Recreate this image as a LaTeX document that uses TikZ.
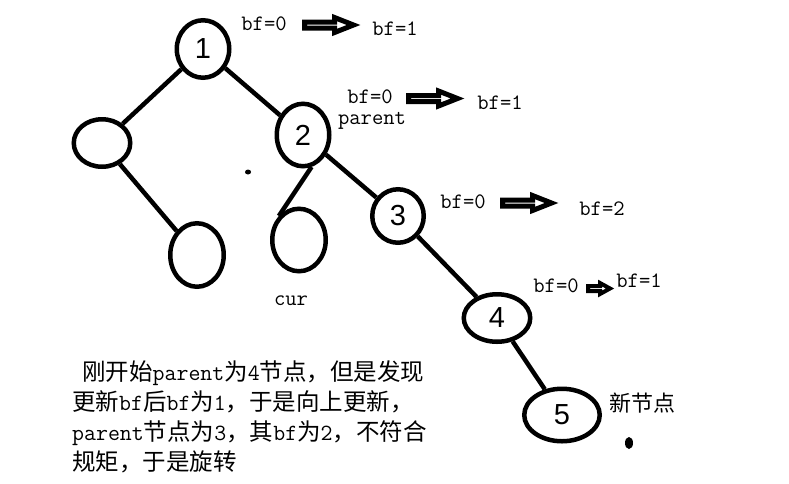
\documentclass[tikz,border=0pt]{standalone}
\usepackage{fontspec}
\newfontfamily\cjk{Noto Sans CJK SC}
\newfontfamily\digitfont{Liberation Sans}
\usetikzlibrary{shapes.geometric}
\newcommand\zh[1]{{\cjk\fontsize{23.5}{30}\selectfont#1}}

\begin{document}
\begin{tikzpicture}[
  x=1pt,y=-1pt,
  font=\ttfamily\fontsize{22}{24}\selectfont,
  treenode/.style={draw,ellipse,line width=4.5pt,inner sep=0pt,
    font=\digitfont\fontsize{29}{29}\selectfont},
  edge/.style={line width=4.5pt},
  lbl/.style={anchor=base,inner sep=0pt},
  fatarrow/.pic={\draw[line width=5pt,line join=miter]
    (0,-3) -- (30,-3) -- (30,-7.5) -- (49,0) -- (30,7.5)
    -- (30,3) -- (0,3) -- cycle;},
  smallarrow/.pic={\draw[line width=4pt,line join=miter]
    (0,-2.5) -- (12,-2.5) -- (12,-5.5) -- (22,0) -- (12,5.5)
    -- (12,2.5) -- (0,2.5) -- cycle;}]
\path[use as bounding box] (0,0) rectangle (789,483);
\node[treenode,minimum width=52.5,minimum height=57.5] (n1) at (203,49) {1};
\node[treenode,minimum width=56.5,minimum height=47.5] (l) at (102,143) {};
\node[treenode,minimum width=53.5,minimum height=63.5] (ll) at (197,255) {};
\node[treenode,minimum width=52.5,minimum height=62.5] (n2) at (303,135) {2};
\node[treenode,minimum width=53.5,minimum height=62.5] (cur) at (299,240) {};
\node[treenode,minimum width=51.5,minimum height=53.5] (n3) at (398,216) {3};
\node[treenode,minimum width=66.5,minimum height=47.5] (n4) at (497,318) {4};
\node[treenode,minimum width=75.5,minimum height=52.5] (n5) at (562,415) {5};
\draw[edge] (n1) -- (l);
\draw[edge] (n1) -- (n2);
\draw[edge] (l) -- (ll);
\draw[edge] (n2.-75) -- (cur.130);
\draw[edge] (n2) -- (n3);
\draw[edge] (n3) -- (n4);
\draw[edge] (n4) -- (n5);

\node[lbl] (bf1a) at (264,30) {bf=0};
\node[lbl] (bf1b) at (395,35) {bf=1};
\node[lbl] (bf2a) at (370,103) {bf=0};
\node[lbl] (bf2b) at (500,109) {bf=1};
\node[lbl] (bf3a) at (463,208) {bf=0};
\node[lbl] (bf3b) at (602,215) {bf=2};
\node[lbl] (bf4a) at (556,292) {bf=0};
\node[lbl] (bf4b) at (639,287) {bf=1};
\pic at (304.5,25) {fatarrow};
\pic at (408.5,98.5) {fatarrow};
\pic at (502.5,203) {fatarrow};
\pic at (588,288.5) {smallarrow};
\node[lbl] (parentlbl) at (372,124) {parent};
\node[lbl] (curlbl) at (291,305) {cur};
\node[font=\cjk\fontsize{22}{22}\selectfont] (newlbl) at (642,403) {新节点};
\fill (248,172) ellipse [x radius=3, y radius=2.5];
\fill (629,443) ellipse [x radius=4, y radius=6];

\node[anchor=north west,inner sep=0pt,align=left,font=\ttfamily\fontsize{23.2}{30}\selectfont]
  (note) at (72,360)
  {\hspace*{10pt}\zh{刚开始}parent\zh{为}4\zh{节点，但是发现}\\
   \zh{更新}bf\zh{后}bf\zh{为}1\zh{，于是向上更新，}\\
   parent\zh{节点为}3\zh{，其}bf\zh{为}2\zh{，不符合}\\
   \zh{规矩，于是旋转}};
\end{tikzpicture}
\end{document}
